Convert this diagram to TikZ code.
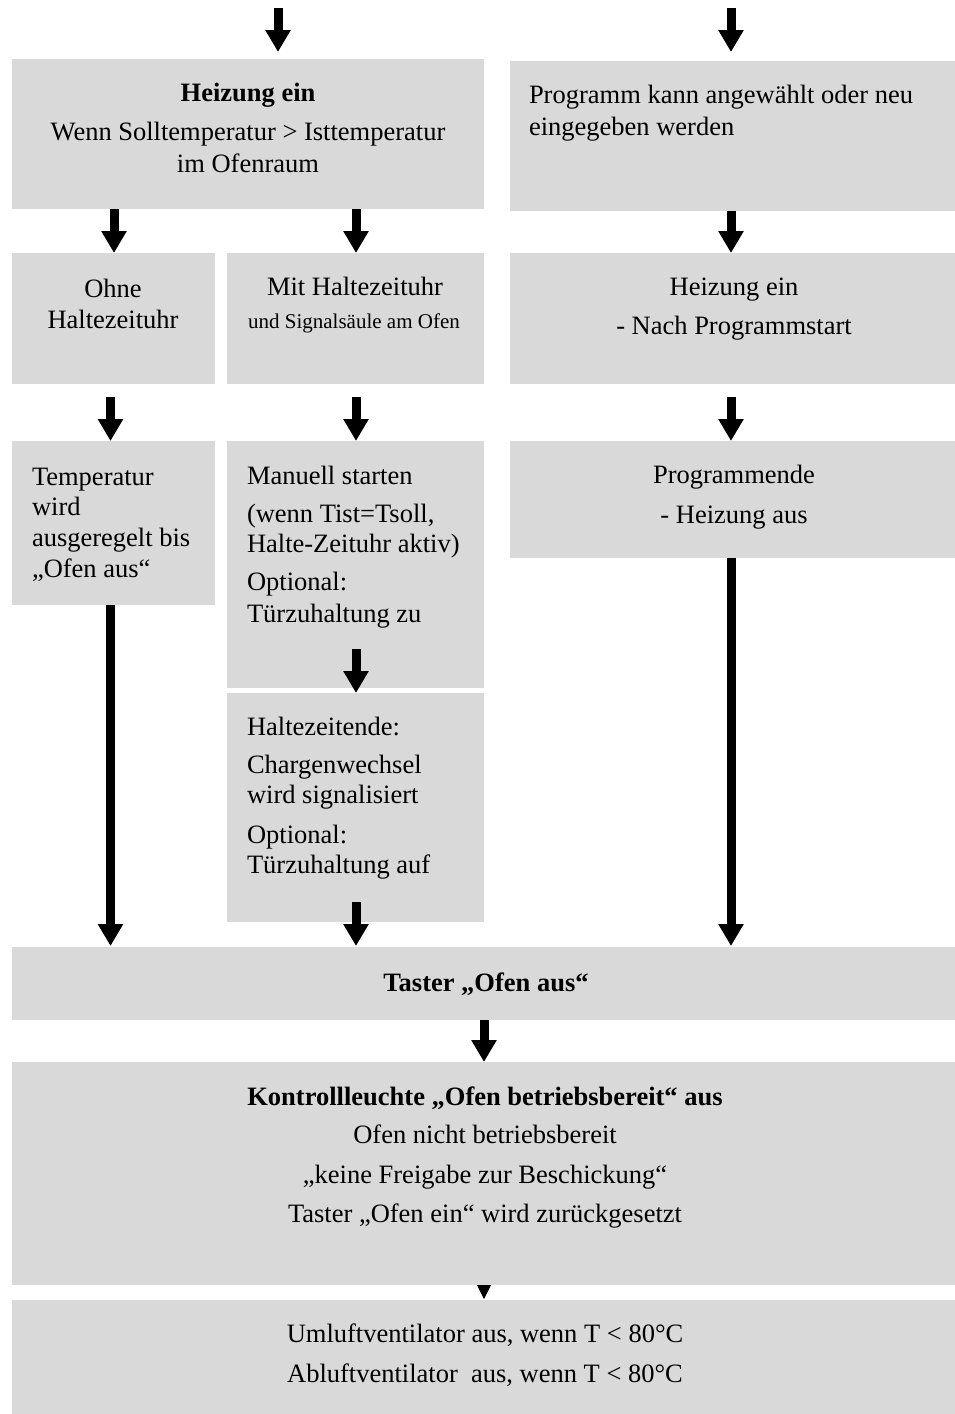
\documentclass[tikz,border=0pt]{standalone}
\usepackage{fontspec}
\setmainfont{Liberation Serif}
\usetikzlibrary{arrows.meta,calc,fit}
\definecolor{boxgray}{RGB}{217,217,217}
\tikzset{
  box/.style={fill=boxgray, draw=none, inner sep=0pt, outer sep=0pt},
  txt/.style={inner sep=0pt, outer sep=0pt, font=\fontsize{26.5pt}{32pt}\selectfont},
  txtb/.style={txt, font=\fontsize{26.5pt}{32pt}\selectfont\bfseries},
  txts/.style={inner sep=0pt, outer sep=0pt, font=\fontsize{21pt}{25pt}\selectfont},
  flow/.style={line width=9pt, -{Triangle[length=22pt,width=24pt]}},
  smallflow/.style={line width=1pt, -{Triangle[length=14pt,width=14pt]}}
}
\newcommand\mybox[5]{\path (#2,#3) coordinate (#1-nw) (#4,#5) coordinate (#1-se);
  \node[box, fit=(#1-nw)(#1-se)] (#1) {};}
\begin{document}
\begin{tikzpicture}[x=1pt,y=-1pt]
\useasboundingbox (0,0) rectangle (955,1414);
\fill[white] (0,0) rectangle (955,1414);

% boxes
\mybox{heiz}{12}{59}{484}{209}
\mybox{prog}{510}{61}{955}{211}
\mybox{ohne}{12}{253}{215}{384}
\mybox{mit}{227}{253}{484}{384}
\mybox{hzp}{510}{253}{955}{384}
\mybox{temp}{12}{441}{215}{605}
\mybox{man}{227}{441}{484}{688}
\mybox{pend}{510}{441}{955}{558}
\mybox{halt}{227}{693}{484}{922}
\mybox{taster}{12}{947}{955}{1020}
\mybox{kontr}{12}{1062}{955}{1285}
\mybox{last}{12}{1300}{955}{1414}

% texts
\node[txtb, anchor=base] (t1a) at (248,101) {Heizung ein};
\node[txt, anchor=base] (t1b) at (248,140) {Wenn Solltemperatur > Isttemperatur};
\node[txt, anchor=base] (t1c) at (248,172) {im Ofenraum};

\node[txt, anchor=base west] (t2a) at (529,103) {Programm kann angewählt oder neu};
\node[txt, anchor=base west] (t2b) at (529,135) {eingegeben werden};

\node[txt, anchor=base] (t3a) at (113,297) {Ohne};
\node[txt, anchor=base] (t3b) at (113,328) {Haltezeituhr};

\node[txt, anchor=base] (t4a) at (355,295) {Mit Haltezeituhr};
\node[txts, anchor=base] (t4b) at (354,328) {und Signalsäule am Ofen};

\node[txt, anchor=base] (t5a) at (734,295) {Heizung ein};
\node[txt, anchor=base] (t5b) at (734,334) {- Nach Programmstart};

\node[txt, anchor=base west] (t6a) at (32,485) {Temperatur};
\node[txt, anchor=base west] (t6b) at (32,515) {wird};
\node[txt, anchor=base west] (t6c) at (32,546) {ausgeregelt bis};
\node[txt, anchor=base west] (t6d) at (32,577) {„Ofen aus“};

\node[txt, anchor=base west] (t7a) at (247,484) {Manuell starten};
\node[txt, anchor=base west] (t7b) at (247,522) {(wenn Tist=Tsoll,};
\node[txt, anchor=base west] (t7c) at (247,552) {Halte-Zeituhr aktiv)};
\node[txt, anchor=base west] (t7d) at (247,590) {Optional:};
\node[txt, anchor=base west] (t7e) at (247,622) {Türzuhaltung zu};

\node[txt, anchor=base west] (t8a) at (247,735) {Haltezeitende:};
\node[txt, anchor=base west] (t8b) at (247,773) {Chargenwechsel};
\node[txt, anchor=base west] (t8c) at (247,803) {wird signalisiert};
\node[txt, anchor=base west] (t8d) at (247,843) {Optional:};
\node[txt, anchor=base west] (t8e) at (247,873) {Türzuhaltung auf};

\node[txt, anchor=base] (t9a) at (734,483) {Programmende};
\node[txt, anchor=base] (t9b) at (734,523) {- Heizung aus};

\node[txtb, anchor=base] (t10) at (486,991) {Taster „Ofen aus“};

\node[txtb, anchor=base] (t11a) at (485,1105) {Kontrollleuchte „Ofen betriebsbereit“ aus};
\node[txt, anchor=base] (t11b) at (485,1143) {Ofen nicht betriebsbereit};
\node[txt, anchor=base] (t11c) at (485,1183) {„keine Freigabe zur Beschickung“};
\node[txt, anchor=base] (t11d) at (485,1222) {Taster „Ofen ein“ wird zurückgesetzt};

\node[txt, anchor=base] (t12a) at (485,1342) {Umluftventilator aus, wenn T < 80°C};
\node[txt, anchor=base] (t12b) at (485,1382) {Abluftventilator\ \ aus, wenn T < 80°C};

% connectors
\coordinate (inL) at (278,8);
\coordinate (inR) at (731,8);
\coordinate (manout) at (356,649);
\coordinate (haltout) at (356,902);
\draw[flow, shorten >=7pt] (inL) -- (inL |- heiz.north);
\draw[flow, shorten >=9pt] (inR) -- (inR |- prog.north);

\draw[flow] (heiz.south -| 114,0) -- (ohne.north -| 114,0);
\draw[flow] (heiz.south -| 356,0) -- (mit.north -| 356,0);
\draw[flow] (prog.south -| 731,0) -- (hzp.north -| 731,0);

\draw[flow, shorten <=13pt] (ohne.south -| 110.5,0) -- (temp.north -| 110.5,0);
\draw[flow, shorten <=13pt] (mit.south -| 356,0) -- (man.north -| 356,0);
\draw[flow, shorten <=13pt] (hzp.south -| 731,0) -- (pend.north -| 731,0);

\draw[flow] (manout) -- (manout |- halt.north);

\draw[flow, shorten >=1pt] (temp.south -| 110.5,0) -- (taster.north -| 110.5,0);
\draw[flow, shorten >=1pt] (haltout) -- (haltout |- taster.north);
\draw[flow, shorten >=1pt] (pend.south -| 731,0) -- (taster.north -| 731,0);

\draw[flow] (taster.south -| 484,0) -- (kontr.north -| 484,0);
\draw[smallflow, shorten >=1pt] (kontr.south -| 484,0) -- (last.north -| 484,0);
\end{tikzpicture}
\end{document}
